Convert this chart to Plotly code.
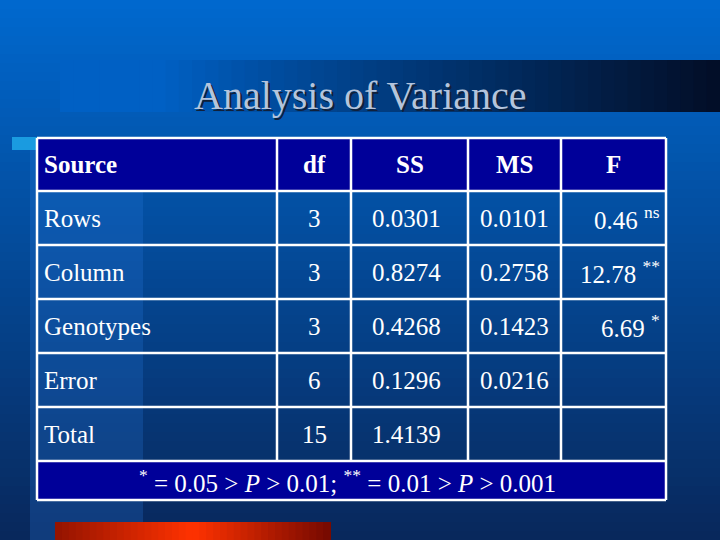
import plotly.graph_objects as go

# table contents
header = ["Source", "df", "SS", "MS", "F"]
sources = ["Rows", "Column", "Genotypes", "Error", "Total"]
df_vals = ["3", "3", "3", "6", "15"]
ss_vals = ["0.0301", "0.8274", "0.4268", "0.1296", "1.4139"]
ms_vals = ["0.0101", "0.2758", "0.1423", "0.0216", ""]
f_vals = ["0.46 <sup>ns</sup>", "12.78 <sup>**</sup>", "6.69 <sup>*</sup>", "", ""]
footnote = "<sup>*</sup> = 0.05 > <i>P</i> > 0.01; <sup>**</sup> = 0.01 > <i>P</i> > 0.001"
title = "Analysis of Variance"

W, H = 720, 540
col_edges = [37, 277, 351, 468, 561, 666]
row_edges = [138, 191, 245, 299, 353, 407, 461]
foot_bottom = 500
FONT = "Liberation Serif"


def mix(c1, c2, t):
    return "rgb(%d,%d,%d)" % tuple(round(a + (b - a) * t) for a, b in zip(c1, c2))


shapes = []
# vertical background gradient
n = 60
for i in range(n):
    t = i / (n - 1)
    shapes.append(dict(type="rect", x0=0, x1=W, y0=H * i / n, y1=H * (i + 1) / n + 1,
                       fillcolor=mix((0, 104, 206), (8, 40, 92), t), line_width=0, layer="below"))
# lighter left strip
shapes.append(dict(type="rect", x0=30, x1=143, y0=140, y1=H, fillcolor="rgba(40,120,220,0.25)",
                   line_width=0, layer="below"))
# title band, horizontal gradient to black
m = 50
for i in range(m):
    t = i / (m - 1)
    x0 = 60 + (W - 60) * i / m
    shapes.append(dict(type="rect", x0=x0, x1=x0 + (W - 60) / m + 1, y0=60, y1=112,
                       fillcolor=mix((0, 96, 196), (2, 14, 40), max(0, (t - 0.15) / 0.85) ** 0.9),
                       line_width=0, layer="below"))
# small cyan marker
shapes.append(dict(type="rect", x0=12, x1=37, y0=137, y1=150, fillcolor="#1a9be0", line_width=0))
# red bar at bottom
k = 40
for i in range(k):
    t = i / (k - 1)
    x0 = 55 + 275 * i / k
    c = mix((150, 20, 0), (255, 50, 0), t / 0.5) if t < 0.5 else mix((255, 50, 0), (120, 10, 0), (t - 0.5) / 0.5)
    shapes.append(dict(type="rect", x0=x0, x1=x0 + 275 / k + 1, y0=522, y1=H, fillcolor=c, line_width=0))

# header and footer fills
shapes.append(dict(type="rect", x0=col_edges[0], x1=col_edges[-1], y0=row_edges[0], y1=row_edges[1],
                   fillcolor="#000099", line_width=0))
shapes.append(dict(type="rect", x0=col_edges[0], x1=col_edges[-1], y0=row_edges[-1], y1=foot_bottom,
                   fillcolor="#000099", line_width=0))
# grid lines
lw = dict(color="white", width=2.5)
for y in row_edges + [foot_bottom]:
    shapes.append(dict(type="line", x0=col_edges[0], x1=col_edges[-1], y0=y, y1=y, line=lw))
for x in col_edges:
    y1 = foot_bottom if x in (col_edges[0], col_edges[-1]) else row_edges[-1]
    shapes.append(dict(type="line", x0=x, x1=x, y0=row_edges[0], y1=y1, line=lw))

ann = []
fnt = dict(family=FONT, size=25, color="white")
# title with shadow
ann.append(dict(x=362, y=97, text=title, showarrow=False,
                font=dict(family=FONT, size=40, color="#10203a")))
ann.append(dict(x=360, y=95, text=title, showarrow=False,
                font=dict(family=FONT, size=40, color="#b4c4dc")))

rows = [header] + [list(r) for r in zip(sources, df_vals, ss_vals, ms_vals, f_vals)]
for r, row in enumerate(rows):
    yc = (row_edges[r] + row_edges[r + 1]) / 2
    for c, txt in enumerate(row):
        if not txt:
            continue
        if r == 0:
            txt = "<b>" + txt + "</b>"
        if c == 0:
            ann.append(dict(x=col_edges[0] + 5, y=yc, text=txt, xanchor="left", showarrow=False, font=fnt))
        elif c == 2 and r > 0:
            ann.append(dict(x=col_edges[2] + 19, y=yc, text=txt, xanchor="left", showarrow=False, font=fnt))
        elif c == 4 and r > 0:
            ann.append(dict(x=col_edges[5] - 4, y=yc, text=txt, xanchor="right", showarrow=False, font=fnt))
        else:
            ann.append(dict(x=(col_edges[c] + col_edges[c + 1]) / 2, y=yc, text=txt, showarrow=False, font=fnt))
ann.append(dict(x=347, y=(row_edges[-1] + foot_bottom) / 2, text=footnote, showarrow=False, font=fnt))

fig = go.Figure()
fig.update_layout(
    width=W, height=H, margin=dict(l=0, r=0, t=0, b=0),
    paper_bgcolor="#0860c0", plot_bgcolor="rgba(0,0,0,0)",
    xaxis=dict(range=[0, W], visible=False, fixedrange=True),
    yaxis=dict(range=[H, 0], visible=False, fixedrange=True),
    shapes=shapes, annotations=ann, showlegend=False,
)
fig.write_html("out.html", config={"displayModeBar": False},
               post_script="document.body.style.margin='0';document.body.style.overflow='hidden';")
